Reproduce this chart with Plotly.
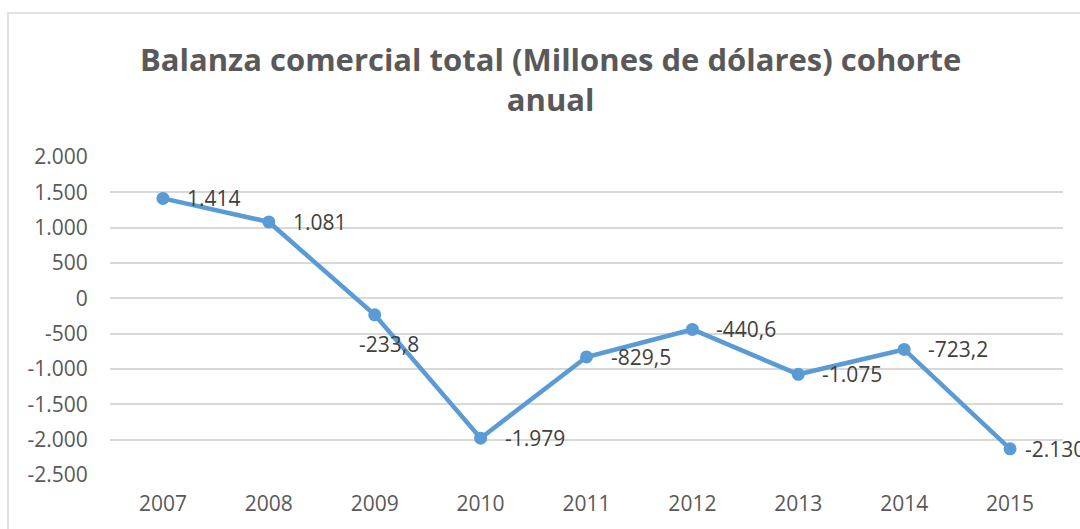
import plotly.graph_objects as go

years = ["2007", "2008", "2009", "2010", "2011", "2012", "2013", "2014", "2015"]
balance = [1414, 1081, -233.8, -1979, -829.5, -440.6, -1075, -723.2, -2130]
y_ticks = [2000, 1500, 1000, 500, 0, -500, -1000, -1500, -2000, -2500]
title_text = "Balanza comercial total (Millones de dólares) cohorte<br>anual"


def fmt_es(v):
    if float(v).is_integer():
        s = f"{abs(int(v)):,}".replace(",", ".")
    else:
        s = f"{abs(v):,.1f}".replace(",", "X").replace(".", ",").replace("X", ".")
    return ("-" if v < 0 else "") + s


labels = [fmt_es(v) for v in balance]
tick_text = [fmt_es(v) for v in y_ticks]

FONT = "Open Sans, sans-serif"
fig = go.Figure()
fig.add_trace(go.Scatter(
    x=years, y=balance, mode="lines+markers",
    line=dict(color="#5B9BD5", width=4.5),
    marker=dict(color="#5B9BD5", size=13),
    cliponaxis=False, hoverinfo="x+y",
))

W, H = 1080, 529
L, R, T, B = 110, 17, 157, 54
pw, ph = W - L - R, H - T - B


def px_x(x):
    return (x - L) / pw


def px_y(y):
    return (H - B - y) / ph


annots = []
n = len(balance)
for i, (v, lab) in enumerate(zip(balance, labels)):
    if i == 2:
        xs, ys, xa = 14, -29, "center"
    elif i == n - 1:
        xs, ys, xa = 13, 0, "left"
    else:
        xs, ys, xa = 22, 0, "left"
    annots.append(dict(
        x=i, y=v, xref="x", yref="y", text=lab, showarrow=False,
        xanchor=xa, yanchor="middle", xshift=xs, yshift=ys,
        font=dict(family=FONT, size=21, color="#404040"),
    ))

annots.append(dict(
    text="<b>" + title_text + "</b>", xref="paper", yref="paper",
    x=px_x(550), y=px_y(36), xanchor="center", yanchor="top",
    showarrow=False, align="center",
    font=dict(family=FONT, size=31, color="#595959"),
))

fig.update_layout(
    width=W, height=H,
    margin=dict(l=L, r=R, t=T, b=B),
    paper_bgcolor="white", plot_bgcolor="white",
    showlegend=False,
    annotations=annots,
    shapes=[dict(
        type="rect", xref="paper", yref="paper",
        x0=px_x(8), x1=px_x(1110), y0=px_y(13), y1=px_y(560),
        line=dict(color="#D9D9D9", width=1.5), layer="below",
    )],
    xaxis=dict(
        type="category", range=[-0.5, 8.5], showgrid=False, showline=False,
        zeroline=False, ticks="outside", ticklen=10, tickcolor="rgba(0,0,0,0)",
        tickfont=dict(family=FONT, size=21, color="#595959"),
    ),
    yaxis=dict(
        range=[-2500, 2000], tickvals=y_ticks, ticktext=tick_text,
        showgrid=True, gridcolor="#D9D9D9", gridwidth=1.5,
        zeroline=False, showline=False,
        ticks="outside", ticklen=17, tickcolor="rgba(0,0,0,0)",
        tickfont=dict(family=FONT, size=21, color="#595959"),
    ),
)

fig.write_html(
    "out.html",
    config={"displayModeBar": False},
    post_script="document.body.style.margin='0';document.body.style.overflow='hidden';",
)
